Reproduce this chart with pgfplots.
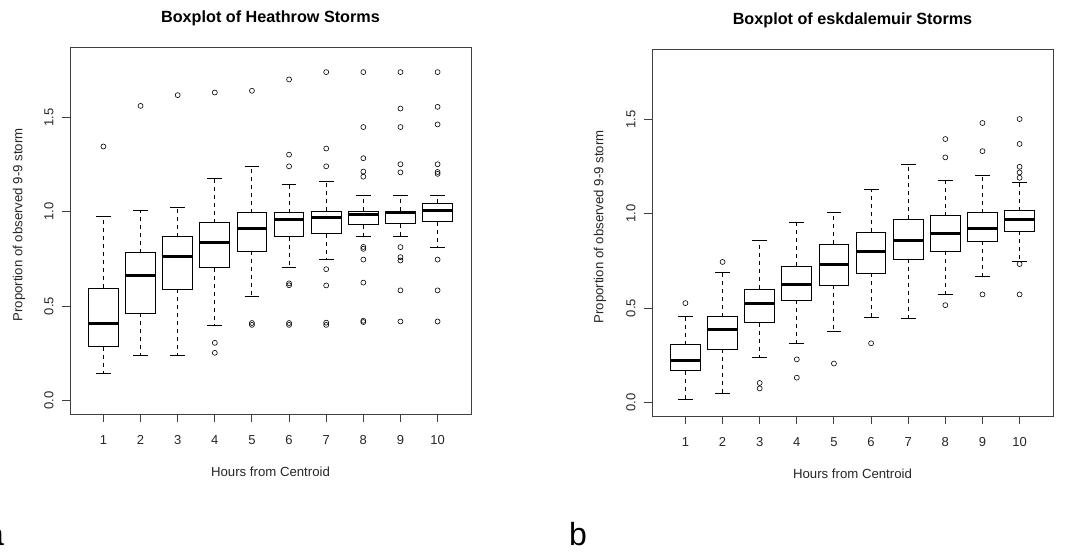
\documentclass[border=0pt]{standalone}
\usepackage{fontspec}
\setmainfont{Liberation Sans}
\usepackage{pgfplots}
\pgfplotsset{compat=1.18}
\usepgfplotslibrary{statistics}
\pgfplotsset{
  rbox/.style={
    scale only axis, width=401pt, height=367pt,
    xmin=0.1, xmax=10.9, ymin=-0.072, ymax=1.872,
    xtick={1,2,3,4,5,6,7,8,9,10},
    xticklabels={1,2,3,4,5,6,7,8,9,10},
    ytick={0,0.5,1,1.5},
    yticklabels={0.0,0.5,1.0,1.5},
    tick pos=left, tick align=outside, major tick length=8pt,
    axis line style={black!75, line width=0.9pt},
    every tick/.style={black!75, line width=0.9pt},
    tick label style={font=\fontsize{13}{15}\selectfont, text=black!85},
    yticklabel style={anchor=center, xshift=-13pt, rotate=90},
    xticklabel style={anchor=center, yshift=-18pt},
    label style={font=\fontsize{13.2}{15}\selectfont, text=black!85},
    xlabel={Hours from Centroid},
    ylabel={Proportion of observed 9-9 storm},
    xlabel style={at={(axis description cs:0.5,0)}, anchor=center, yshift=-57.7pt},
    title style={font=\fontsize{16.2}{18}\selectfont\bfseries, at={(axis description cs:0.5,1)}, anchor=center, yshift=23pt},
    clip=false,
    boxplot/draw direction=y,
  },
  boxplot/box extend=0.8,
  boxplot/whisker extend=0.4,
  boxplot/every median/.style={line width=3pt},
  boxplot/every box/.style={line width=1pt},
  boxplot/draw/lower whisker/.code={
    \draw[line width=0.9pt, dash pattern=on 4pt off 4pt]
      (boxplot cs:\pgfplotsboxplotvalue{lower quartile}) -- (boxplot cs:\pgfplotsboxplotvalue{lower whisker});
    \draw[line width=0.9pt]
      (boxplot whisker cs:\pgfplotsboxplotvalue{lower whisker},0) -- (boxplot whisker cs:\pgfplotsboxplotvalue{lower whisker},1);
  },
  boxplot/draw/upper whisker/.code={
    \draw[line width=0.9pt, dash pattern=on 4pt off 4pt]
      (boxplot cs:\pgfplotsboxplotvalue{upper quartile}) -- (boxplot cs:\pgfplotsboxplotvalue{upper whisker});
    \draw[line width=0.9pt]
      (boxplot whisker cs:\pgfplotsboxplotvalue{upper whisker},0) -- (boxplot whisker cs:\pgfplotsboxplotvalue{upper whisker},1);
  },
  bxp/.style={black, mark=o, mark size=2.5pt, mark options={line width=0.6pt, solid}},
}
% #1 position, #2 lower whisker, #3 lower quartile, #4 median, #5 upper quartile, #6 upper whisker, #7 outliers
\newcommand{\bp}[7]{\addplot[bxp, boxplot prepared={draw position=#1, lower whisker=#2, lower quartile=#3, median=#4, upper quartile=#5, upper whisker=#6}] coordinates {#7};}
\begin{document}
\begin{tikzpicture}[x=1pt,y=1pt]
\path[use as bounding box] (0,0) rectangle (1065,552);
\begin{axis}[rbox, at={(70pt,138pt)}, anchor=south west,
  title={Boxplot of Heathrow Storms},
  ylabel style={at={(axis description cs:-0.1272,0.515)}, anchor=center}]
\bp{1}{0.142}{0.283}{0.407}{0.593}{0.974}{(0,1.345)}
\bp{2}{0.236}{0.462}{0.661}{0.782}{1.004}{(0,1.560)}
\bp{3}{0.236}{0.588}{0.764}{0.867}{1.022}{(0,1.617)}
\bp{4}{0.396}{0.702}{0.839}{0.942}{1.176}{(0,1.631) (0,0.305) (0,0.252)}
\bp{5}{0.553}{0.791}{0.913}{0.993}{1.238}{(0,1.640) (0,0.400) (0,0.410)}
\bp{6}{0.704}{0.867}{0.956}{0.993}{1.144}{(0,1.700) (0,1.302) (0,1.240) (0,0.610) (0,0.620) (0,0.400) (0,0.410)}
\bp{7}{0.745}{0.883}{0.968}{1.002}{1.158}{(0,1.739) (0,1.334) (0,1.240) (0,0.695) (0,0.609) (0,0.400) (0,0.412)}
\bp{8}{0.871}{0.931}{0.984}{1.002}{1.087}{(0,1.739) (0,1.448) (0,1.283) (0,1.212) (0,1.185) (0,0.803) (0,0.813) (0,0.746) (0,0.624) (0,0.415) (0,0.422)}
\bp{9}{0.871}{0.937}{0.995}{1.002}{1.087}{(0,1.739) (0,1.546) (0,1.448) (0,1.251) (0,1.208) (0,0.812) (0,0.759) (0,0.741) (0,0.583) (0,0.418)}
\bp{10}{0.810}{0.947}{1.004}{1.045}{1.087}{(0,1.739) (0,1.555) (0,1.462) (0,1.251) (0,1.200) (0,1.210) (0,0.746) (0,0.583) (0,0.418)}
\end{axis}
\begin{axis}[rbox, at={(652pt,136pt)}, anchor=south west,
  title={Boxplot of eskdalemuir Storms},
  ylabel style={at={(axis description cs:-0.1297,0.515)}, anchor=center}]
\bp{1}{0.016}{0.167}{0.223}{0.306}{0.457}{(0,0.526)}
\bp{2}{0.048}{0.281}{0.386}{0.454}{0.687}{(0,0.744)}
\bp{3}{0.236}{0.423}{0.523}{0.599}{0.859}{(0,0.103) (0,0.074)}
\bp{4}{0.312}{0.542}{0.627}{0.722}{0.953}{(0,0.228) (0,0.131)}
\bp{5}{0.374}{0.621}{0.731}{0.839}{1.004}{(0,0.206)}
\bp{6}{0.448}{0.684}{0.802}{0.900}{1.126}{(0,0.313)}
\bp{7}{0.443}{0.758}{0.859}{0.970}{1.259}{}
\bp{8}{0.570}{0.800}{0.896}{0.990}{1.174}{(0,1.395) (0,1.298) (0,0.515)}
\bp{9}{0.669}{0.853}{0.922}{1.004}{1.202}{(0,1.480) (0,1.331) (0,0.572)}
\bp{10}{0.749}{0.907}{0.967}{1.016}{1.163}{(0,1.501) (0,1.369) (0,1.248) (0,1.218) (0,1.190) (0,0.733) (0,0.572)}
\end{axis}
\node[anchor=base east, font=\fontsize{32}{36}\selectfont, inner sep=0pt] at (4,7) {a};
\node[anchor=base west, font=\fontsize{32}{36}\selectfont, inner sep=0pt] at (569,7) {b};
\end{tikzpicture}
\end{document}
